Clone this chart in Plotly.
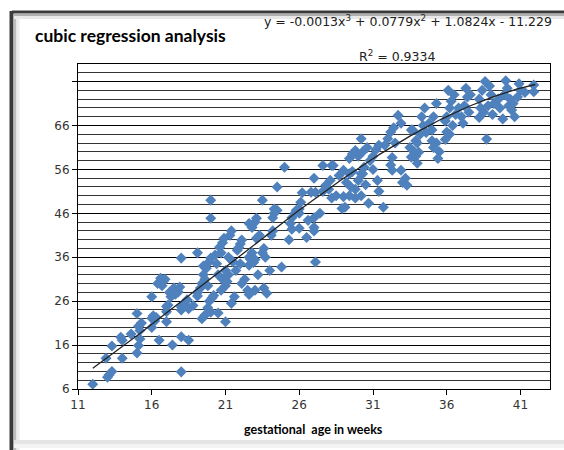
import plotly.graph_objects as go
import numpy as np

# gestational age (weeks) and measured value
ages = [
    12.0, 13.0, 13.1, 13.3, 12.9, 14.0, 13.3, 14.0, 13.9, 15.0, 15.1, 15.2, 15.2, 15.1, 15.0, 15.3, 14.6,
    16.0, 16.0, 16.0, 16.2, 16.1, 16.3, 16.5, 16.4, 16.6, 16.8, 16.9, 16.7, 17.0, 17.1, 17.0, 17.0, 17.4,
    17.2, 17.5, 17.8, 17.9, 17.6, 17.3,
    18.0, 18.0, 18.0, 18.5, 18.0, 18.0, 18.2, 18.5, 18.8, 18.4, 19.1, 19.1, 19.3, 19.1, 19.4, 19.6, 19.5,
    19.5, 19.4, 19.6, 19.8, 19.7, 19.9, 20.0, 19.9, 20.1, 20.2, 20.0, 20.0, 20.0, 19.8,
    20.5, 21.0, 20.6, 20.8, 20.9, 20.7, 20.5, 20.8, 21.0, 21.2, 20.7, 21.0, 21.1, 21.3, 21.4, 21.2, 21.5,
    21.6, 21.8, 22.0, 22.1, 21.9, 22.0, 21.7, 22.1, 21.4, 20.4, 20.3,
    22.6, 22.7, 22.8, 22.6, 22.9, 23.0, 22.8, 23.0, 23.1, 22.6, 23.1, 23.3, 23.5, 23.6, 23.7, 23.5, 22.6,
    23.0, 23.6, 23.8, 22.3, 22.5, 24.1, 24.2, 24.3, 24.3, 24.2, 24.5, 24.5, 24.8, 24.0, 23.2,
    25.0, 25.4, 25.5, 25.7, 25.8, 25.5, 26.0, 26.0, 26.1, 26.2, 26.0, 26.6, 27.0, 27.4, 27.0, 27.0, 26.8,
    27.1, 27.0, 27.1, 27.6, 27.8, 28.0, 27.6, 28.2, 28.3, 28.2, 28.1, 28.5, 25.3, 26.5,
    28.7, 29.0, 29.4, 29.6, 28.9, 29.1, 29.0, 29.4, 29.8, 30.2, 29.4, 29.6, 29.8, 30.0, 30.3, 30.2, 30.2,
    30.4, 30.3, 29.2, 29.5, 29.8, 30.0, 30.5, 30.7, 30.8, 31.0, 31.2, 31.4, 30.6, 31.0, 31.3, 31.4, 31.7,
    31.8, 32.0, 32.2, 32.5, 32.7, 32.9, 32.4, 32.2, 32.3, 32.3, 32.9, 33.0, 33.2, 33.3, 33.7, 33.6, 33.6,
    33.8, 33.9, 34.0, 34.1, 33.5, 33.9, 34.0, 34.2, 34.4, 34.3, 34.5,
    34.6, 34.8, 35.0, 35.1, 35.3, 35.0, 35.3, 35.5, 35.4, 35.1, 35.9, 35.9, 36.0, 36.2, 36.3, 36.5, 36.1,
    36.4, 36.6, 36.2, 36.0, 37.0, 37.2, 37.4, 37.3, 37.6, 37.1, 37.5, 36.8,
    38.2, 38.7, 38.2, 38.4, 38.6, 38.9, 39.0, 39.2, 38.8, 38.5, 39.1, 38.3, 39.9, 40.0, 40.1, 40.3, 40.5,
    40.4, 40.6, 40.2, 40.8, 41.0, 40.9, 39.6, 39.5, 41.9, 41.9, 41.3, 39.8,
]
values = [
    7.1, 8.7, 9.2, 10.0, 13.0, 13.0, 15.8, 17.1, 17.8, 23.2, 20.3, 19.3, 17.4, 15.9, 14.2, 21.0, 18.5,
    27.0, 22.1, 20.0, 21.5, 22.7, 22.3, 17.1, 30.0, 31.2, 30.6, 31.0, 29.5, 21.3, 25.1, 23.6, 24.8, 16.0,
    28.0, 29.0, 28.1, 29.2, 27.6, 27.0,
    24.0, 24.7, 17.9, 17.1, 9.9, 35.8, 25.5, 24.3, 25.0, 26.3, 37.0, 28.0, 29.0, 27.2, 22.0, 22.8, 32.0,
    34.0, 30.0, 31.0, 29.5, 33.5, 35.0, 35.8, 26.0, 26.8, 27.3, 49.0, 44.9, 23.5, 24.5,
    23.3, 21.3, 38.3, 39.3, 40.3, 37.0, 32.0, 31.0, 33.0, 32.0, 28.5, 29.5, 30.5, 41.0, 42.0, 36.0, 35.0,
    27.0, 37.6, 39.0, 39.9, 38.2, 34.5, 33.0, 30.0, 25.5, 34.5, 36.5,
    34.2, 35.5, 37.0, 36.0, 34.8, 35.5, 42.8, 44.0, 44.9, 43.7, 40.3, 41.0, 37.0, 38.0, 36.0, 49.0, 27.5,
    28.5, 29.0, 27.8, 31.0, 28.5, 41.0, 42.0, 46.0, 47.0, 45.0, 46.7, 52.0, 33.8, 33.0, 32.0,
    56.5, 43.7, 45.0, 46.0, 46.7, 42.4, 42.6, 47.0, 48.5, 50.7, 46.0, 44.4, 45.0, 46.0, 42.0, 42.8, 50.8,
    50.8, 54.0, 34.9, 51.0, 52.4, 51.5, 56.9, 56.9, 56.9, 49.5, 53.5, 50.0, 40.0, 40.5,
    54.6, 55.8, 55.0, 55.5, 47.1, 47.4, 49.8, 50.0, 49.5, 50.0, 58.5, 59.5, 60.3, 59.0, 60.0, 63.0, 55.0,
    56.5, 55.0, 53.0, 52.0, 51.5, 53.5, 52.5, 48.3, 58.0, 59.0, 60.5, 61.5, 61.0, 56.0, 53.5, 51.0, 47.4,
    61.5, 63.0, 64.5, 62.0, 68.3, 66.5, 65.5, 57.0, 58.7, 55.8, 55.8, 53.0, 54.0, 52.4, 64.9, 65.0, 58.8,
    60.0, 59.0, 57.4, 59.9, 61.0, 62.5, 62.0, 64.0, 66.0, 68.0, 70.0,
    64.4, 66.5, 65.0, 68.0, 71.0, 62.5, 62.0, 60.0, 58.5, 61.0, 62.8, 67.0, 68.0, 70.0, 71.5, 73.0, 74.0,
    66.0, 68.5, 64.0, 64.5, 68.0, 70.5, 72.5, 74.5, 73.0, 66.5, 69.0, 70.0,
    67.8, 62.9, 72.0, 74.0, 76.0, 75.0, 73.0, 71.0, 70.5, 69.0, 68.5, 70.0, 73.0, 76.2, 74.5, 72.0, 71.0,
    69.5, 68.0, 70.5, 72.5, 74.0, 75.5, 70.0, 72.0, 75.2, 73.7, 73.5, 67.5,
]

# cubic trendline coefficients (x^3, x^2, x, const) as shown on the chart
coef = [-0.0013, 0.0779, 1.0824, -11.229]
fit_start, fit_end = 12, 42

y_tickvals = [6, 16, 26, 36, 46, 56, 66, 76]
y_ticktext = ["6", "16", "26", "36", "46", "56", "66", ""]
x_tickvals = [11, 16, 21, 26, 31, 36, 41]

fit_x = np.linspace(fit_start, fit_end, 200)
fit_y = np.polyval(coef, fit_x)

fig = go.Figure()
fig.add_trace(go.Scatter(
    x=ages, y=values, mode="markers",
    marker=dict(symbol="diamond", size=8.5, color="#4F81BD", line=dict(width=0)),
    showlegend=False, hoverinfo="x+y",
))
fig.add_trace(go.Scatter(
    x=fit_x, y=fit_y, mode="lines",
    line=dict(color="#222222", width=1.3),
    showlegend=False, hoverinfo="skip",
))

W, H = 564, 450
L, R, T, B = 78, 14, 64, 61

def px(x):
    return (x - L) / (W - L - R)

def py(y):
    return (H - B - y) / (H - T - B)

shapes = [
    # outer frame: dark top and left edges with a soft shadow
    dict(type="line", xref="paper", yref="paper", x0=px(12), x1=px(564), y0=py(12), y1=py(12),
         line=dict(color="#3a3a3a", width=3), layer="above"),
    dict(type="line", xref="paper", yref="paper", x0=px(11.5), x1=px(11.5), y0=py(11), y1=py(450),
         line=dict(color="#3a3a3a", width=4), layer="above"),
    dict(type="line", xref="paper", yref="paper", x0=px(15), x1=px(15), y0=py(14), y1=py(450),
         line=dict(color="#bdbdbd", width=3), layer="above"),
    dict(type="line", xref="paper", yref="paper", x0=px(18), x1=px(18), y0=py(14), y1=py(450),
         line=dict(color="#ececec", width=3), layer="above"),
    dict(type="line", xref="paper", yref="paper", x0=px(14), x1=px(564), y0=py(15), y1=py(15),
         line=dict(color="#b0b0b0", width=2), layer="above"),
    dict(type="line", xref="paper", yref="paper", x0=px(14), x1=px(564), y0=py(17.5), y1=py(17.5),
         line=dict(color="#e8e8e8", width=3), layer="above"),
    dict(type="line", xref="paper", yref="paper", x0=px(14), x1=px(564), y0=py(442), y1=py(442),
         line=dict(color="#e4e4e4", width=4), layer="above"),
    dict(type="line", xref="paper", yref="paper", x0=px(14), x1=px(564), y0=py(446), y1=py(446),
         line=dict(color="#f3f3f3", width=4), layer="above"),
]

annotations = [
    dict(text="<b>cubic regression analysis</b>", xref="paper", yref="paper", x=px(33), y=py(36),
         xanchor="left", yanchor="middle", showarrow=False,
         font=dict(family="Lato", size=17.5, color="#000000")),
    dict(text="y = -0.0013x<sup>3</sup> + 0.0779x<sup>2</sup> + 1.0824x - 11.229",
         xref="paper", yref="paper", x=px(554), y=py(21), xanchor="right", yanchor="middle",
         showarrow=False, font=dict(family="DejaVu Sans", size=12.5, color="#222222")),
    dict(text="R<sup>2</sup> = 0.9334", xref="paper", yref="paper", x=px(357), y=py(56),
         xanchor="left", yanchor="middle", showarrow=False,
         font=dict(family="DejaVu Sans", size=12.5, color="#222222")),
    dict(text="<b>gestational  age in weeks</b>", xref="paper", yref="paper", x=px(313), y=py(430),
         xanchor="center", yanchor="middle", showarrow=False,
         font=dict(family="Lato", size=12.5, color="#000000")),
]

fig.update_layout(
    width=W, height=H,
    margin=dict(l=L, r=R, t=T, b=B, pad=0),
    paper_bgcolor="white", plot_bgcolor="white",
    shapes=shapes, annotations=annotations,
    xaxis=dict(
        range=[11, 43], tickvals=x_tickvals, ticks="outside", ticklen=5, tickcolor="#000000",
        showgrid=False, zeroline=False, showline=True, linecolor="#000000", linewidth=1, mirror=True,
        tickfont=dict(family="DejaVu Sans", size=12, color="#333333"),
    ),
    yaxis=dict(
        range=[6, 80], tickvals=y_tickvals, ticktext=y_ticktext, ticks="outside", ticklen=5,
        tickcolor="#000000",
        showgrid=True, gridcolor="#000000", gridwidth=1, zeroline=False,
        showline=True, linecolor="#000000", linewidth=1, mirror=True,
        minor=dict(tickvals=[v for v in range(8, 80, 2) if (v - 6) % 10 != 0],
                   showgrid=True, gridcolor="#333333", gridwidth=1, ticks=""),
        tickfont=dict(family="DejaVu Sans", size=12, color="#333333"),
    ),
)

fig.write_html("out.html")
